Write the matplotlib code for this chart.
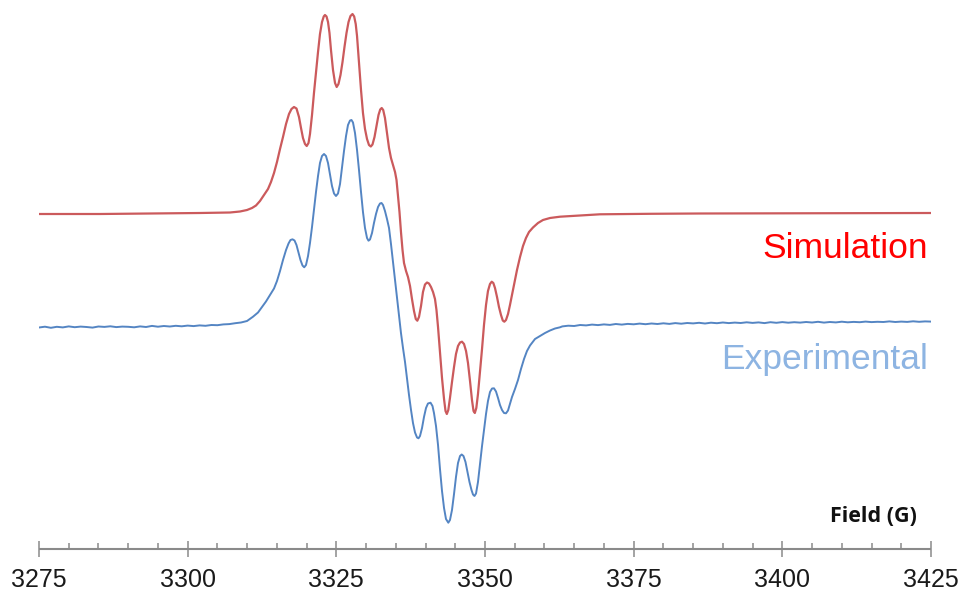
import matplotlib
matplotlib.use("Agg")
import matplotlib.pyplot as plt
from matplotlib.ticker import MultipleLocator

# ---- EPR spectra (field in gauss, intensity in arbitrary units) ----
sim_field = [3275.00, 3285.26, 3293.67, 3302.07, 3307.12, 3308.80, 3309.98, 3310.82,
             3311.49, 3312.16, 3312.84, 3313.51, 3314.01, 3314.52, 3315.02, 3315.53,
             3316.03, 3316.54, 3317.04, 3317.46, 3317.88, 3318.30, 3318.72, 3319.06,
             3319.39, 3319.73, 3320.02, 3320.32, 3320.57, 3320.91, 3321.24, 3321.58,
             3321.92, 3322.25, 3322.59, 3322.88, 3323.09, 3323.35, 3323.60, 3323.85,
             3324.10, 3324.44, 3324.78, 3325.06, 3325.36, 3325.70, 3326.04, 3326.37,
             3326.71, 3327.05, 3327.38, 3327.72, 3328.00, 3328.26, 3328.48, 3328.81,
             3329.15, 3329.48, 3329.82, 3330.16, 3330.49, 3330.80, 3331.08, 3331.42,
             3331.75, 3332.09, 3332.38, 3332.63, 3332.88, 3333.18, 3333.52, 3333.86,
             3334.19, 3334.53, 3334.87, 3335.12, 3335.37, 3335.62, 3335.87, 3336.13,
             3336.38, 3336.72, 3337.05, 3337.39, 3337.72, 3338.06, 3338.36, 3338.62,
             3338.90, 3339.24, 3339.57, 3339.91, 3340.25, 3340.58, 3340.92, 3341.26,
             3341.59, 3341.84, 3342.10, 3342.43, 3342.77, 3343.11, 3343.36, 3343.58,
             3343.83, 3344.11, 3344.45, 3344.79, 3345.12, 3345.46, 3345.80, 3346.13,
             3346.47, 3346.81, 3347.14, 3347.48, 3347.81, 3348.07, 3348.29, 3348.54,
             3348.82, 3349.16, 3349.50, 3349.83, 3350.17, 3350.50, 3350.84, 3351.13,
             3351.40, 3351.68, 3352.02, 3352.35, 3352.69, 3352.99, 3353.25, 3353.53,
             3353.87, 3354.20, 3354.54, 3354.88, 3355.38, 3355.89, 3356.39, 3356.89,
             3357.40, 3358.07, 3358.91, 3359.75, 3360.93, 3362.61, 3365.98, 3369.34,
             3377.75, 3386.16, 3402.97, 3425.00]
sim_signal = [-1, -1, -0.5, 0, 0.5, 1.5, 3, 5,
              7.5, 12, 18, 24, 31, 40, 51, 64,
              76, 89, 99, 104, 106, 104.5, 96, 85,
              75, 69, 67, 70, 79, 98, 120, 141,
              161, 179, 191, 196.5, 198, 196.5, 191, 180,
              163, 143, 130, 126, 129, 138, 151, 166,
              180, 191, 197, 199, 196.5, 189, 177, 151,
              123, 100, 84, 74, 68, 66.5, 68.5, 76,
              87, 98, 103.5, 105, 103, 95, 80, 65,
              55, 48, 41, 33, 17, 1, -19, -37,
              -50, -58, -64, -73, -86, -98, -106, -107.7,
              -104, -93, -79, -71.5, -69.5, -70.5, -74, -79,
              -86, -97, -114, -139, -165, -186, -198, -201,
              -197, -185, -169, -154, -141, -133, -129.5, -128.7,
              -131, -138, -150, -168, -187, -198, -200, -195,
              -181, -159, -136, -112, -92, -78, -71, -68.7,
              -70, -75, -84, -94, -102, -107.5, -108.7, -107,
              -101, -92, -82, -72, -57, -44, -33, -25,
              -19, -14.5, -10, -7, -5, -3.7, -2.5, -1.3,
              -0.8, -0.5, -0.3, 0]

exp_field = [3275, 3276, 3277, 3278, 3279, 3280, 3281, 3282, 3283, 3284,
             3285, 3286, 3287, 3288, 3289, 3290, 3291, 3292, 3293, 3294,
             3295, 3296, 3297, 3298, 3299, 3300, 3301, 3302, 3303, 3304,
             3305, 3306, 3307, 3308, 3308.97,
             3309.98, 3310.99, 3311.83, 3312.50, 3313.17, 3313.84, 3314.52, 3315.02,
             3315.53, 3316.03, 3316.54, 3316.96, 3317.29, 3317.63, 3317.97, 3318.30,
             3318.64, 3318.97, 3319.31, 3319.60, 3319.90, 3320.24, 3320.57, 3320.91,
             3321.24, 3321.58, 3321.92, 3322.25, 3322.59, 3322.93, 3323.26, 3323.60,
             3323.94, 3324.27, 3324.61, 3324.94, 3325.28, 3325.62, 3325.95, 3326.29,
             3326.63, 3326.96, 3327.30, 3327.55, 3327.80, 3328.14, 3328.48, 3328.81,
             3329.15, 3329.48, 3329.82, 3330.16, 3330.41, 3330.66, 3331.00, 3331.33,
             3331.67, 3332.01, 3332.34, 3332.60, 3332.85, 3333.18, 3333.52, 3333.86,
             3334.19, 3334.53, 3334.87, 3335.20, 3335.54, 3335.87, 3336.21, 3336.55,
             3336.88, 3337.22, 3337.56, 3337.89, 3338.23, 3338.57, 3338.82, 3339.07,
             3339.41, 3339.74, 3340.08, 3340.41, 3340.84, 3341.17, 3341.42, 3341.76,
             3342.10, 3342.43, 3342.77, 3343.11, 3343.44, 3343.83, 3344.11, 3344.45,
             3344.79, 3345.12, 3345.46, 3345.80, 3346.08, 3346.38, 3346.72, 3347.06,
             3347.39, 3347.73, 3347.98, 3348.23, 3348.49, 3348.82, 3349.16, 3349.50,
             3349.83, 3350.17, 3350.50, 3350.84, 3351.18, 3351.51, 3351.85, 3352.19,
             3352.52, 3352.86, 3353.20, 3353.53, 3353.87, 3354.20, 3354.54, 3355.04,
             3355.55, 3356.05, 3356.56, 3357.06, 3357.57, 3358.41, 3359.25, 3360.09,
             3360.93, 3361.77, 3362.61,
             3363, 3364, 3365, 3366, 3367, 3368, 3369, 3370, 3371, 3372,
             3373, 3374, 3375, 3376, 3377, 3378, 3379, 3380, 3381, 3382,
             3383, 3384, 3385, 3386, 3387, 3388, 3389, 3390, 3391, 3392,
             3393, 3394, 3395, 3396, 3397, 3398, 3399, 3400, 3401, 3402,
             3403, 3404, 3405, 3406, 3407, 3408, 3409, 3410, 3411, 3412,
             3413, 3414, 3415, 3416, 3417, 3418, 3419, 3420, 3421, 3422,
             3423, 3424, 3425]
exp_signal = [-0.5, 0.3, -0.8, 0.2, -0.4, 0.6, -0.2, 0.4, 0.0, -0.6,
              0.5, 0.1, 0.7, -0.1, 0.4, 0.2, -0.3, 0.6, 0.0, 1.1,
              0.3, 1.0, 0.5, 1.2, 0.7, 1.4, 0.9, 1.6, 1.2, 2.0,
              1.8, 2.6, 2.9, 3.8, 4.5,
              6, 10.3, 14.5, 20, 25.5, 32, 38.5, 46,
              56, 67, 77, 83.5, 87, 87.7, 86.5, 82,
              74.5, 67, 61.5, 59.7, 62, 71, 84, 100,
              117, 135, 151, 164, 171, 173, 171, 164,
              152, 141, 133.5, 131, 133.5, 143, 159, 176,
              191, 202, 206.5, 207, 204.5, 194, 177, 157,
              135, 115, 99, 89, 86.3, 87.5, 94, 104,
              113, 120, 123.5, 124, 122, 116, 108, 99,
              83, 65, 47, 29, 11, -6, -21, -35,
              -51, -68, -83, -96, -105.5, -110.5, -111.3, -109,
              -101, -90, -81, -76.5, -75.7, -79, -86, -99,
              -118, -142, -164, -181, -192, -195.7, -193, -183,
              -167, -150, -136, -129, -127.5, -129, -135, -145,
              -155, -163, -167.5, -169, -166.5, -155, -137, -119,
              -103, -87, -74, -65, -61.5, -61.3, -64.5, -71,
              -78, -83, -86, -86.3, -83.5, -77, -70, -62,
              -53, -42, -32, -24, -18.5, -12, -9, -6,
              -3.5, -1.5, -0.3,
              0.6, 1.3, 1.0, 2.0, 1.6, 2.4, 1.9, 2.6, 2.1, 3.0,
              2.4, 3.1, 2.7, 3.4, 2.8, 3.5, 3.0, 3.7, 3.1, 3.9,
              3.3, 4.0, 3.6, 4.2, 3.5, 4.3, 3.8, 4.5, 3.9, 4.4,
              4.0, 4.7, 4.1, 4.6, 3.9, 4.8, 4.2, 4.9, 4.3, 4.8,
              4.4, 5.0, 4.5, 5.2, 4.4, 5.0, 4.6, 5.3, 4.7, 5.1,
              4.8, 5.4, 4.9, 5.2, 5.0, 5.6, 5.0, 5.4, 5.1, 5.7,
              5.2, 5.6, 5.4]

sim_offset = 114          # vertical stacking of the simulated trace
x_major = [3275, 3300, 3325, 3350, 3375, 3400, 3425]

fig = plt.figure(figsize=(9.61, 5.94), dpi=100)
ax = fig.add_axes([39 / 961, 45 / 594, 892 / 961, 549 / 594])

ax.plot(sim_field, [v + sim_offset for v in sim_signal], color="#cb5a5c", lw=1.6,
        solid_joinstyle="round", solid_capstyle="round")
ax.plot(exp_field, exp_signal, color="#5485c3", lw=1.4,
        solid_joinstyle="round", solid_capstyle="round")

ax.set_xlim(3275, 3425)
ax.set_ylim(-222, 327)

for side in ("top", "left", "right"):
    ax.spines[side].set_visible(False)
ax.spines["bottom"].set_color("#8a8a8a")
ax.spines["bottom"].set_linewidth(1.5)
ax.spines["bottom"].set_capstyle("butt")

ax.set_yticks([])
ax.set_xticks(x_major)
ax.xaxis.set_minor_locator(MultipleLocator(5))
ax.tick_params(axis="x", which="major", direction="inout", length=11, width=1.1,
               color="#8a8a8a", pad=8, labelsize=18, labelcolor="#1a1a1a")
ax.tick_params(axis="x", which="minor", direction="in", length=4.5, width=1.1,
               color="#8a8a8a")
for lab in ax.get_xticklabels():
    lab.set_family(["Liberation Sans", "DejaVu Sans"])

fig.text(928 / 961, (594 - 248) / 594, "Simulation", color="#ff0000",
         fontsize=25.5, ha="right", va="center", family=["Liberation Sans", "DejaVu Sans"])
fig.text(928 / 961, (594 - 359) / 594, "Experimental", color="#8db4e2",
         fontsize=25.5, ha="right", va="center", family=["Liberation Sans", "DejaVu Sans"])
fig.text(917 / 961, (594 - 517) / 594, "Field (G)", color="#111111",
         fontsize=15.5, fontweight="bold", ha="right", va="center",
         family=["Open Sans", "DejaVu Sans"])

fig.savefig("out.png", dpi=100)
